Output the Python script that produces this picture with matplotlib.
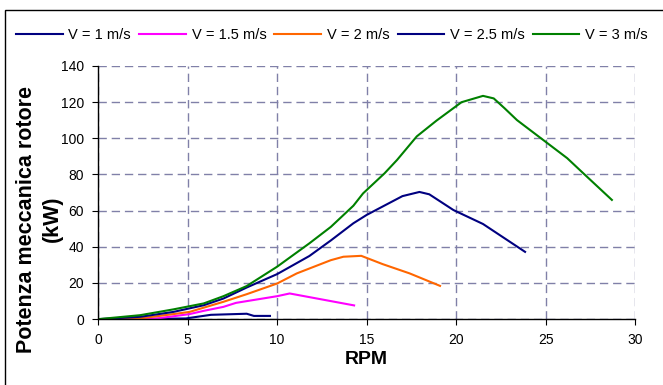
import matplotlib.pyplot as plt
from matplotlib.patches import Rectangle

plt.rcParams['font.family'] = ['Liberation Sans', 'DejaVu Sans']

# V = 1 m/s
rpm_v1 = [0, 2.0, 4.9, 6.3, 8.3, 8.7, 9.6]
pow_v1 = [0, 0, 0.4, 2.4, 3.0, 1.8, 1.8]
# V = 1.5 m/s
rpm_v15 = [0, 2.0, 3.3, 5.1, 5.9, 7.0, 7.7, 10.0, 10.7, 14.3]
pow_v15 = [0, 0, 0.4, 2.8, 4.6, 6.8, 9.0, 12.7, 14.2, 7.6]
# V = 2 m/s
rpm_v2 = [0, 2.0, 4.2, 5.1, 7.0, 8.3, 10.0, 11.1, 13.0, 13.7, 14.7, 15.9, 17.4, 19.1]
pow_v2 = [0, 0, 2.8, 4.0, 9.6, 13.8, 19.7, 25.3, 32.6, 34.5, 35.0, 30.4, 25.3, 18.4]
# V = 2.5 m/s
rpm_v25 = [0, 2.35, 4.2, 5.9, 7.0, 8.3, 10.0, 11.8, 13.0, 14.26, 15.0, 17.0, 17.95, 18.5, 19.85, 21.5, 23.85]
pow_v25 = [0, 1.3, 4.0, 7.7, 11.4, 17.5, 24.9, 34.9, 43.5, 53.0, 57.6, 68.0, 70.3, 69.0, 60.3, 52.6, 37.2]
# V = 3 m/s
rpm_v3 = [0, 2.35, 4.2, 5.9, 7.0, 8.3, 10.0, 11.8, 13.0, 14.26, 14.8, 16.0, 16.7, 17.8, 18.9,
          20.3, 21.5, 22.1, 22.7, 23.4, 25.0, 26.2, 27.3, 28.7]
pow_v3 = [0, 2.2, 5.4, 8.7, 12.7, 18.3, 29.0, 41.9, 51.0, 62.7, 69.5, 80.6, 88.0, 101.0, 109.7,
          119.9, 123.4, 122.0, 116.6, 110.0, 98.0, 89.0, 78.8, 65.9]

series = [
    (rpm_v1, pow_v1, '#000080', 'V = 1 m/s'),
    (rpm_v15, pow_v15, '#ff00ff', 'V = 1.5 m/s'),
    (rpm_v2, pow_v2, '#ff6600', 'V = 2 m/s'),
    (rpm_v25, pow_v25, '#000080', 'V = 2.5 m/s'),
    (rpm_v3, pow_v3, '#008000', 'V = 3 m/s'),
]

fig = plt.figure(figsize=(6.63, 3.85), dpi=100)
ax = fig.add_axes([0.148, 0.171, 0.810, 0.658])

for x, y, c, lab in series:
    ax.plot(x, y, color=c, lw=1.5, label=lab)

ax.set_xlim(0, 30)
ax.set_ylim(0, 140)
ax.set_xticks(range(0, 31, 5))
ax.set_yticks(range(0, 141, 20))
ax.grid(True, color='#8080a8', linestyle=(0, (6, 3.5)), lw=1)
ax.set_axisbelow(True)
for s in ['top', 'right']:
    ax.spines[s].set_visible(False)
ax.spines['left'].set_linewidth(1)
ax.spines['bottom'].set_linewidth(1)
ax.tick_params(direction='out', length=4, labelsize=10, pad=6)

ax.set_xlabel('RPM', fontsize=14, fontweight='bold', labelpad=3)
fig.text(0.060, 0.431, 'Potenza meccanica rotore\n(kW)', rotation=90, ha='center',
         va='center', fontsize=15.5, fontweight='bold', linespacing=1.3)

ax.legend(loc='center left', bbox_to_anchor=(16 / 663, 0.909), bbox_transform=fig.transFigure,
          ncol=5, frameon=False, fontsize=10.5, handlelength=3.2, handletextpad=0.4,
          columnspacing=0.55, borderaxespad=0, borderpad=0)

fig.patches.append(Rectangle((0.008, -0.1), 1.2, 1.075, transform=fig.transFigure,
                             fill=False, edgecolor='black', lw=1))

fig.savefig('out.png', dpi=100)
